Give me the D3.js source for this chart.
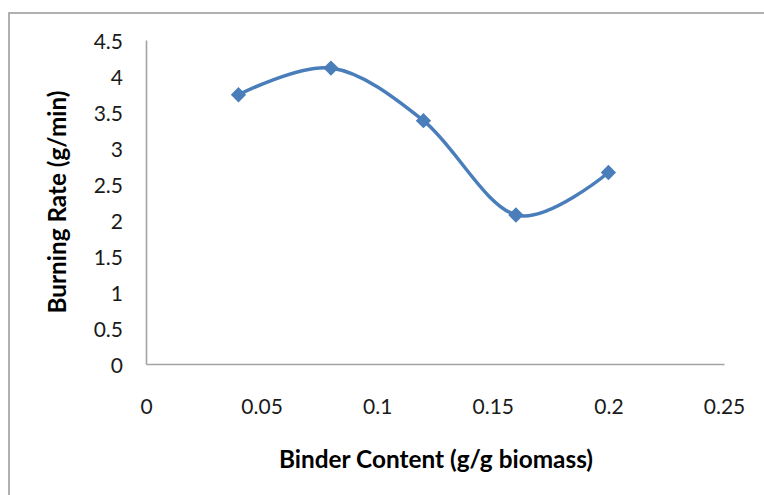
<!DOCTYPE html>
<html><head><meta charset="utf-8">
<script src="https://cdn.jsdelivr.net/npm/d3@7/dist/d3.min.js"></script>
<style>body{margin:0;background:#fff;}svg{display:block;}</style>
</head><body>
<svg id="c" width="764" height="495"></svg>
<script>
const binderContent = [0.04, 0.08, 0.12, 0.16, 0.20];
const burningRate = [3.74, 4.11, 3.38, 2.07, 2.66];
const xTicks = [0, 0.05, 0.1, 0.15, 0.2, 0.25];
const yTicks = [0, 0.5, 1, 1.5, 2, 2.5, 3, 3.5, 4, 4.5];
const xTitle = "Binder Content (g/g biomass)";
const yTitle = "Burning Rate (g/min)";

const svg = d3.select("#c");
const font = "Lato, 'Open Sans', sans-serif";
const axisColor = "#a3a3a3";
const lineColor = "#4a7ebb";

// outer chart border
svg.append("rect").attr("x", 9).attr("y", 13).attr("width", 770).attr("height", 500)
  .attr("fill", "none").attr("stroke", "#a8a8a8").attr("stroke-width", 1.8);

const x = d3.scaleLinear().domain([0, 0.25]).range([146, 724]);
const y = d3.scaleLinear().domain([0, 4.5]).range([364, 40]);

// axes (lines only, no tick marks)
const xAxis = d3.axisBottom(x).tickValues(xTicks).tickSize(0).tickPadding(0)
  .tickFormat(d => d3.format("")(+d.toFixed(2)));
const gx = svg.append("g").attr("transform", `translate(0,${y(0)})`).call(xAxis);
gx.select(".domain").attr("stroke", axisColor).attr("stroke-width", 1.6);
gx.selectAll("text").attr("font-family", font).attr("font-size", 21).attr("fill", "#1a1a1a")
  .attr("dy", null).attr("y", 41).attr("dominant-baseline", "central");

const yAxis = d3.axisLeft(y).tickValues(yTicks).tickSize(0).tickPadding(23)
  .tickFormat(d => String(d));
const gy = svg.append("g").attr("transform", `translate(${x(0)},0)`).call(yAxis);
gy.select(".domain").attr("stroke", axisColor).attr("stroke-width", 1.6);
gy.selectAll("text").attr("font-family", font).attr("font-size", 21).attr("fill", "#1a1a1a")
  .attr("dy", null).attr("dominant-baseline", "central");

// line
const pts = binderContent.map((v, i) => [x(v), y(burningRate[i])]);
svg.append("path").attr("d", d3.line().curve(d3.curveCardinal.tension(0))(pts))
  .attr("fill", "none").attr("stroke", lineColor).attr("stroke-width", 3.5);

// diamond markers
svg.selectAll("path.m").data(pts).join("path").attr("class", "m")
  .attr("transform", d => `translate(${d[0]},${d[1]})`)
  .attr("d", d3.symbol(d3.symbolDiamond2, 150)())
  .attr("fill", lineColor);

// titles
function fitTitle(sel, target) {
  const w = sel.node().getComputedTextLength();
  sel.attr("font-size", 20 * target / w);
}
const xt = svg.append("text").attr("x", 436).attr("y", 458)
  .attr("text-anchor", "middle").attr("dominant-baseline", "central")
  .attr("font-family", font).attr("font-weight", "bold").attr("font-size", 20)
  .attr("fill", "#000").text(xTitle);
fitTitle(xt, 314);
const yt = svg.append("text").attr("transform", "translate(56,202) rotate(-90)")
  .attr("text-anchor", "middle").attr("dominant-baseline", "central")
  .attr("font-family", font).attr("font-weight", "bold").attr("font-size", 20)
  .attr("fill", "#000").text(yTitle);
fitTitle(yt, 223);
</script>
</body></html>
